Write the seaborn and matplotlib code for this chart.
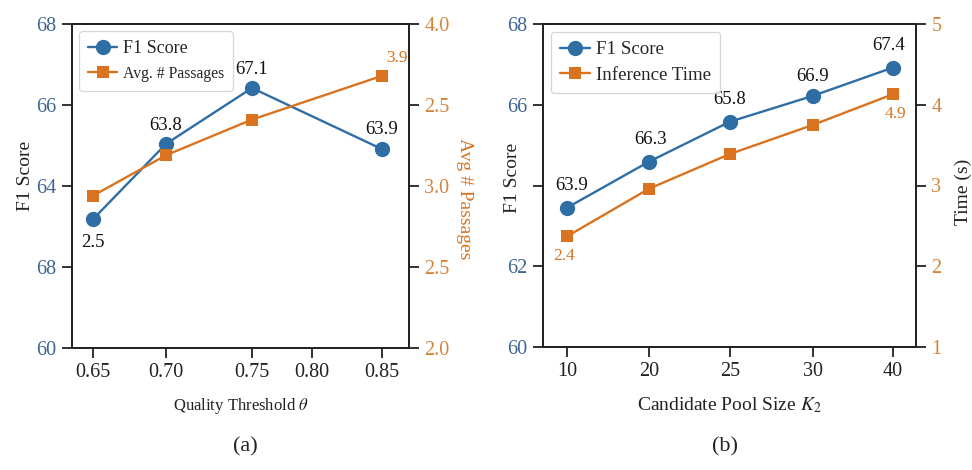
import numpy as np
import pandas as pd
import matplotlib
matplotlib.use("Agg")
import matplotlib.pyplot as plt
import seaborn as sns

# ---------------- data: panel (a) ----------------
theta = [0.65, 0.70, 0.75, 0.85]
f1_a = [63.18, 65.04, 66.42, 64.91]
passages_a = [2.94, 3.19, 3.41, 3.68]
f1_a_labels = ["2.5", "63.8", "67.1", "63.9"]
passages_a_labels = ["", "", "", "3.9"]
xticks_a = [0.65, 0.70, 0.75, 0.80, 0.85]
xticklabels_a = ["0.65", "0.70", "0.75", "0.80", "0.85"]
yticks_a_left = [60, 62, 64, 66, 68]
yticklabels_a_left = ["60", "68", "64", "66", "68"]
yticks_a_right = [2.0, 2.5, 3.0, 3.5, 4.0]
yticklabels_a_right = ["2.0", "2.5", "3.0", "2.5", "4.0"]

# ---------------- data: panel (b) ----------------
k2 = [10, 20, 25, 30, 40]
f1_b = [63.45, 64.59, 65.58, 66.22, 66.92]
time_b = [2.37, 2.96, 3.39, 3.75, 4.13]
f1_b_labels = ["63.9", "66.3", "65.8", "66.9", "67.4"]
time_b_labels = ["2.4", "", "", "", "4.9"]
xticks_b = [10, 20, 25, 30, 40]
xticklabels_b = ["10", "20", "25", "30", "40"]
yticks_b_left = [60, 62, 64, 66, 68]
yticklabels_b_left = ["60", "62", "", "66", "68"]
yticks_b_right = [1, 2, 3, 4, 5]
yticklabels_b_right = ["1", "2", "3", "4", "5"]

# ---------------- styling ----------------
BLUE = "#2f6ea5"
ORANGE = "#d9731f"
TICK_BLUE = "#3d6594"
TICK_ORANGE = "#d4843a"

sns.set_theme(style="ticks")
plt.rcParams["font.family"] = ["Liberation Serif", "DejaVu Serif"]
plt.rcParams["mathtext.fontset"] = "stix"
plt.rcParams["axes.linewidth"] = 1.3

# piecewise-linear x scales (layout of the original axes)
scale_a_vals = [0.60, 0.65, 0.70, 0.75, 0.80, 0.85, 0.90]
scale_a_pos = [21, 93, 166, 252, 312, 382, 452]
scale_b_vals = [0, 10, 20, 25, 30, 40, 50]
scale_b_pos = [485, 567, 649, 730, 813, 893, 973]


def make_scale(vals, pos):
    v = np.array(vals, float)
    p = np.array(pos, float)
    return (lambda x: np.interp(x, v, p), lambda y: np.interp(y, p, v))


fig = plt.figure(figsize=(9.72, 4.70), dpi=100)
axA = fig.add_axes([72 / 972, 1 - 348 / 470, (409 - 72) / 972, 324 / 470])
axB = fig.add_axes([543 / 972, 1 - 347 / 470, (916 - 543) / 972, 323 / 470])


def style_axes(ax, ax2, tick_fs):
    for a in (ax, ax2):
        for s in a.spines.values():
            s.set_visible(True)
            s.set_color("#222222")
            s.set_linewidth(1.3)
        a.tick_params(direction="out", length=7, width=1.3, color="#222222",
                      labelsize=tick_fs, pad=4)
    ax.tick_params(axis="y", labelcolor=TICK_BLUE)
    ax2.tick_params(axis="y", labelcolor=TICK_ORANGE)
    ax.tick_params(axis="x", labelcolor="#222222")


def draw_panel(ax, x, f1, other, f1_lab, oth_lab, f1_offsets, oth_offsets,
               scale, xlim, xticks, xtl, ylt, yltl, yrt, yrtl, ylim_r,
               xlabel, rlabel, rlabel_color, rlabel_rot, name2, leg_sizes,
               xlabel_fs, lcoords, rcoords, tick_fs):
    ax.set_xscale("function", functions=make_scale(*scale))
    ax2 = ax.twinx()
    df1 = pd.DataFrame({"x": x, "y": f1})
    df2 = pd.DataFrame({"x": x, "y": other})
    sns.lineplot(data=df1, x="x", y="y", ax=ax, color=BLUE, marker="o",
                 markersize=11, linewidth=1.7, mec=BLUE, mew=0,
                 label="F1 Score", legend=False)
    sns.lineplot(data=df2, x="x", y="y", ax=ax2, color=ORANGE, marker="s",
                 markersize=8.5, linewidth=1.7, mec=ORANGE, mew=0,
                 label=name2, legend=False)
    ax.set_xlim(*xlim)
    ax.set_ylim(60, 68)
    ax2.set_ylim(*ylim_r)
    ax.set_xticks(xticks)
    ax.set_xticklabels(xtl)
    ax.xaxis.set_minor_locator(matplotlib.ticker.NullLocator())
    ax.set_yticks(ylt)
    ax.set_yticklabels(yltl)
    ax2.set_yticks(yrt)
    ax2.set_yticklabels(yrtl)
    style_axes(ax, ax2, tick_fs)
    ax.set_xlabel(xlabel, fontsize=xlabel_fs, color="#222222", labelpad=10)
    ax.set_ylabel("F1 Score", fontsize=14, color="#222222",
                  va="center", ha="center")
    ax.yaxis.set_label_coords(*lcoords)
    ax2.set_ylabel(rlabel, fontsize=14, color=rlabel_color,
                   rotation=rlabel_rot, va="center", ha="center")
    ax2.yaxis.set_label_coords(*rcoords)
    for xi, yi, t, off in zip(x, f1, f1_lab, f1_offsets):
        if t:
            ax.annotate(t, (xi, yi), xytext=off, textcoords="offset points",
                        ha="center", va="center", fontsize=13.5, color="#111111")
    for xi, yi, t, off in zip(x, other, oth_lab, oth_offsets):
        if t:
            ax2.annotate(t, (xi, yi), xytext=off, textcoords="offset points",
                         ha="center", va="center", fontsize=12.5, color=ORANGE)
    h1, l1 = ax.get_legend_handles_labels()
    h2, l2 = ax2.get_legend_handles_labels()
    leg = ax2.legend(h1 + h2, l1 + l2, loc="upper left", fontsize=leg_sizes[0],
                     frameon=True, fancybox=True, handlelength=1.6,
                     handletextpad=0.3, borderpad=0.5, labelspacing=0.45,
                     bbox_to_anchor=(0.0, 1.0), borderaxespad=0.4)
    for txt, fs in zip(leg.get_texts(), leg_sizes):
        txt.set_fontsize(fs)
    leg.get_frame().set_edgecolor("#cccccc")
    leg.get_frame().set_linewidth(0.9)
    return ax2


draw_panel(axA, theta, f1_a, passages_a, f1_a_labels, passages_a_labels,
           [(0, -17), (0, 13), (0, 13), (0, 14)],
           [(0, 0), (0, 0), (0, 0), (11, 13)],
           (scale_a_vals, scale_a_pos), (0.6354, 0.8693),
           xticks_a, xticklabels_a, yticks_a_left, yticklabels_a_left,
           yticks_a_right, yticklabels_a_right, (2.0, 4.0),
           r"Quality Threshold $\theta$", "Avg # Passages", ORANGE, 270,
           "Avg. # Passages", (13, 11.3), 12,
           (-0.139, 0.53), (1.166, 0.46), 14.5)

draw_panel(axB, k2, f1_b, time_b, f1_b_labels, time_b_labels,
           [(3, 16), (1, 16), (0, 16), (0, 14), (-3, 16)],
           [(-2, -14), (0, 0), (0, 0), (0, 0), (2, -14)],
           (scale_b_vals, scale_b_pos), (7.07, 42.9),
           xticks_b, xticklabels_b, yticks_b_left, yticklabels_b_left,
           yticks_b_right, yticklabels_b_right, (1, 5),
           r"Candidate Pool Size $K_2$", "Time (s)", "#222222", 90,
           "Inference Time", (13.6, 13.6), 14,
           (-0.082, 0.523), (1.127, 0.48), 14.5)

fig.text(245 / 972, 1 - 447 / 470, "(a)", ha="center", va="center",
         fontsize=16, color="#222222")
fig.text(725 / 972, 1 - 447 / 470, "(b)", ha="center", va="center",
         fontsize=16, color="#222222")

fig.savefig("out.png", dpi=100, facecolor="white")
